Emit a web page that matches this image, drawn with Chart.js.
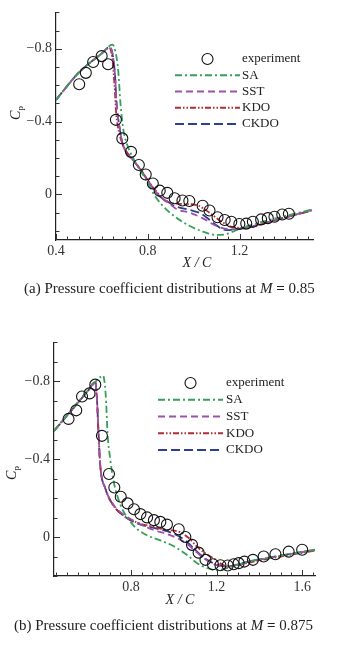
<!DOCTYPE html>
<html>
<head>
<meta charset="utf-8">
<script src="https://cdn.jsdelivr.net/npm/chart.js@4.4.0/dist/chart.umd.min.js"></script>
<style>
  body { margin: 0; background: #fff; width: 359px; height: 662px; position: relative; overflow: hidden;
         font-family: 'Liberation Serif', 'DejaVu Serif', serif; color: #222; }
  canvas { position: absolute; left: 0; }
  .lbl { position: absolute; white-space: nowrap; line-height: 1; }
  .axis-x { font-size: 14px; font-style: italic; transform: translateX(-50%); }
  .axis-y { font-size: 14px; transform: translate(-50%, -50%) rotate(-90deg); }
  .axis-y sub { font-size: 9px; font-style: normal; }
  .cap { font-size: 15px; }
  .cap b { font-weight: bold; }
</style>
</head>
<body>
<canvas id="chartA" width="359" height="262" style="top:0"></canvas>
<canvas id="chartB" width="359" height="270" style="top:330px"></canvas>

<div class="lbl axis-y" style="left:17px; top:113px"><i>C</i><sub>p</sub></div>
<div class="lbl axis-x" style="left:197px; top:256px">X / C</div>
<div class="lbl cap" style="left:24px; top:281px">(a) Pressure coefficient distributions at <i>M</i> <b>=</b> 0.85</div>

<div class="lbl axis-y" style="left:13px; top:473px"><i>C</i><sub>p</sub></div>
<div class="lbl axis-x" style="left:180px; top:593px">X / C</div>
<div class="lbl cap" style="left:14px; top:618px">(b) Pressure coefficient distributions at <i>M</i> <b>=</b> 0.875</div>

<script>
// ---------- (a) M = 0.85 ----------
const expXA = [0.501, 0.530, 0.562, 0.599, 0.627, 0.661, 0.689, 0.727, 0.761, 0.791, 0.822, 0.852, 0.885, 0.917, 0.951, 0.981,
               1.039, 1.069, 1.104, 1.135, 1.164, 1.199, 1.229, 1.258, 1.294, 1.323, 1.352, 1.386, 1.415];
const expCpA = [-0.605, -0.668, -0.728, -0.76, -0.715, -0.41, -0.308, -0.234, -0.162, -0.11, -0.06, -0.021, -0.009, 0.021, 0.033, 0.036,
                0.062, 0.088, 0.125, 0.14, 0.15, 0.162, 0.16, 0.15, 0.137, 0.13, 0.122, 0.11, 0.106];

const saXA  = [0.4, 0.5, 0.6, 0.646, 0.658, 0.671, 0.681, 0.693, 0.707, 0.74, 0.79, 0.83, 0.867, 0.925, 0.983, 1.04, 1.099, 1.142, 1.186, 1.23, 1.3, 1.4, 1.515];
const saCpA = [-0.52, -0.67, -0.775, -0.823, -0.79, -0.683, -0.5, -0.36, -0.286, -0.19, -0.085, 0.005, 0.065, 0.128, 0.173, 0.204, 0.222, 0.218, 0.196, 0.175, 0.15, 0.118, 0.083];

const sstXA  = [0.4, 0.5, 0.6, 0.635, 0.648, 0.657, 0.664, 0.678, 0.693, 0.735, 0.765, 0.794, 0.823, 0.852, 0.881, 0.925, 0.983, 1.04, 1.099, 1.157, 1.2, 1.243, 1.3, 1.388, 1.515];
const sstCpA = [-0.52, -0.67, -0.775, -0.81, -0.76, -0.66, -0.5, -0.36, -0.268, -0.19, -0.142, -0.088, -0.034, 0.01, 0.036, 0.08, 0.1, 0.131, 0.173, 0.19, 0.19, 0.178, 0.16, 0.13, 0.085];

const kdoXA  = [0.4, 0.5, 0.6, 0.632, 0.645, 0.655, 0.662, 0.675, 0.693, 0.735, 0.765, 0.794, 0.823, 0.852, 0.881, 0.953, 1.012, 1.07, 1.128, 1.186, 1.243, 1.3, 1.388, 1.515];
const kdoCpA = [-0.52, -0.67, -0.775, -0.805, -0.75, -0.6, -0.45, -0.34, -0.27, -0.19, -0.145, -0.09, -0.04, 0.005, 0.04, 0.052, 0.058, 0.101, 0.155, 0.182, 0.18, 0.162, 0.13, 0.088];

const ckdoXA  = [0.4, 0.5, 0.6, 0.635, 0.648, 0.657, 0.664, 0.678, 0.693, 0.735, 0.765, 0.794, 0.823, 0.852, 0.881, 0.91, 0.983, 1.026, 1.055, 1.084, 1.142, 1.186, 1.243, 1.3, 1.388, 1.515];
const ckdoCpA = [-0.52, -0.67, -0.775, -0.81, -0.76, -0.66, -0.5, -0.36, -0.268, -0.19, -0.142, -0.088, -0.034, 0.01, 0.034, 0.059, 0.085, 0.101, 0.125, 0.155, 0.196, 0.19, 0.18, 0.16, 0.13, 0.088];

const xTickLabelsA = [0.4, 0.8, 1.2];

// ---------- (b) M = 0.875 ----------
const expXB = [0.508, 0.544, 0.571, 0.606, 0.633, 0.664, 0.697, 0.722, 0.752, 0.784, 0.814, 0.844, 0.875, 0.907, 0.937, 0.968,
               1.023, 1.054, 1.085, 1.116, 1.148, 1.183, 1.218, 1.252, 1.28, 1.303, 1.33, 1.37, 1.42, 1.475, 1.537, 1.6];
const expCpB = [-0.607, -0.651, -0.722, -0.738, -0.783, -0.52, -0.324, -0.255, -0.207, -0.173, -0.143, -0.118, -0.101, -0.087, -0.078, -0.064,
                -0.04, 0.0, 0.04, 0.08, 0.117, 0.14, 0.145, 0.146, 0.14, 0.134, 0.126, 0.117, 0.1, 0.088, 0.075, 0.065];

const saXB  = [0.44, 0.5, 0.6, 0.66, 0.669, 0.678, 0.684, 0.69, 0.703, 0.719, 0.75, 0.812, 0.875, 0.937, 1.0, 1.062, 1.109, 1.156, 1.202, 1.249, 1.35, 1.45, 1.55, 1.66];
const saCpB = [-0.545, -0.625, -0.755, -0.825, -0.83, -0.78, -0.688, -0.537, -0.4, -0.285, -0.168, -0.059, -0.009, 0.017, 0.047, 0.092, 0.134, 0.159, 0.171, 0.159, 0.125, 0.105, 0.085, 0.065];

const sstXB  = [0.44, 0.5, 0.6, 0.633, 0.641, 0.648, 0.656, 0.68, 0.719, 0.766, 0.828, 0.906, 0.968, 1.015, 1.062, 1.109, 1.156, 1.202, 1.249, 1.35, 1.45, 1.55, 1.66];
const sstCpB = [-0.545, -0.623, -0.753, -0.797, -0.704, -0.537, -0.37, -0.25, -0.165, -0.115, -0.075, -0.036, -0.016, 0.005, 0.035, 0.08, 0.12, 0.145, 0.152, 0.127, 0.106, 0.086, 0.068];

const kdoXB  = [0.44, 0.5, 0.6, 0.633, 0.641, 0.648, 0.656, 0.68, 0.719, 0.766, 0.828, 0.906, 0.968, 1.03, 1.07, 1.109, 1.15, 1.186, 1.249, 1.3, 1.4, 1.5, 1.66];
const kdoCpB = [-0.545, -0.623, -0.753, -0.797, -0.704, -0.537, -0.37, -0.25, -0.16, -0.11, -0.075, -0.052, -0.037, -0.025, 0.005, 0.05, 0.085, 0.109, 0.15, 0.143, 0.12, 0.1, 0.07];

const ckdoXB  = [0.44, 0.5, 0.6, 0.633, 0.641, 0.648, 0.656, 0.68, 0.719, 0.766, 0.828, 0.906, 0.968, 1.015, 1.062, 1.109, 1.156, 1.202, 1.249, 1.35, 1.45, 1.55, 1.66];
const ckdoCpB = [-0.545, -0.623, -0.753, -0.797, -0.704, -0.537, -0.37, -0.25, -0.16, -0.109, -0.07, -0.047, -0.03, -0.009, 0.025, 0.075, 0.117, 0.142, 0.151, 0.125, 0.105, 0.085, 0.067];

const xTickLabelsB = [0.8, 1.2, 1.6];
const yTickLabels = [-0.8, -0.4, 0];

const pts = (xs, ys) => xs.map((x, i) => ({ x: x, y: ys[i] }));

function expSet(xs, ys) {
    return { label: 'experiment', data: pts(xs, ys), showLine: false,
             pointRadius: 5.5, pointBorderWidth: 1.1, pointBorderColor: '#111',
             pointBackgroundColor: 'rgba(0,0,0,0)' };
}
function lineSet(label, xs, ys, color, dash) {
    return { label: label, data: pts(xs, ys), showLine: true, borderColor: color,
             borderWidth: 1.8, borderDash: dash, pointRadius: 0,
             cubicInterpolationMode: 'monotone' };
}

function fmt(v) {
    if (Math.abs(v) < 1e-9) return '0';
    return (v < 0 ? '\u2212' : '') + Math.abs(v).toFixed(1);
}
const near = (list, v) => list.some(t => Math.abs(t - v) < 1e-6);

// short tick marks drawn inside the plot, at the scale's own ticks
const inwardTicks = {
    id: 'inwardTicks',
    afterDraw(chart) {
        const { ctx, chartArea } = chart;
        const xs = chart.scales.x, ys = chart.scales.y;
        ctx.save();
        ctx.strokeStyle = '#333';
        ctx.lineWidth = 1;
        ctx.beginPath();
        xs.ticks.forEach(t => {
            const px = Math.round(xs.getPixelForValue(t.value)) + 0.5;
            const len = t.label ? 6 : 3.5;
            ctx.moveTo(px, chartArea.bottom);
            ctx.lineTo(px, chartArea.bottom - len);
        });
        ys.ticks.forEach(t => {
            const py = Math.round(ys.getPixelForValue(t.value)) + 0.5;
            const len = t.label ? 6 : 3.5;
            ctx.moveTo(chartArea.left, py);
            ctx.lineTo(chartArea.left + len, py);
        });
        ctx.stroke();
        ctx.restore();
    }
};

// legend with long line samples, placed inside the plot
const insideLegend = {
    id: 'insideLegend',
    afterDraw(chart, args, opts) {
        const ctx = chart.ctx;
        ctx.save();
        ctx.font = '13px "Liberation Serif"';
        ctx.textBaseline = 'middle';
        chart.data.datasets.forEach((ds, i) => {
            const y = opts.top + i * opts.rowGap;
            if (ds.showLine === false) {
                ctx.beginPath();
                ctx.arc((opts.x0 + opts.x1) / 2, y, ds.pointRadius, 0, Math.PI * 2);
                ctx.lineWidth = ds.pointBorderWidth;
                ctx.strokeStyle = ds.pointBorderColor;
                ctx.stroke();
            } else {
                ctx.beginPath();
                ctx.setLineDash(ds.borderDash || []);
                ctx.moveTo(opts.x0, y);
                ctx.lineTo(opts.x1, y);
                ctx.strokeStyle = ds.borderColor;
                ctx.lineWidth = ds.borderWidth;
                ctx.stroke();
                ctx.setLineDash([]);
            }
            ctx.fillStyle = '#222';
            ctx.fillText(ds.label, opts.textX, y);
        });
        ctx.restore();
    }
};

const SA_COLOR = '#35a05a', SST_COLOR = '#9c52a8', KDO_COLOR = '#b52a34', CKDO_COLOR = '#2c3f92';
const SA_DASH = [7, 3, 2, 3], SST_DASH = [7, 4], KDO_DASH = [6, 2, 1.5, 2, 1.5, 2], CKDO_DASH = [9, 4];

function makeChart(id, sets, cfg) {
    const tickFont = { family: 'Liberation Serif', size: 14 };
    return new Chart(document.getElementById(id), {
        type: 'scatter',
        data: { datasets: sets },
        options: {
            responsive: false,
            animation: false,
            layout: { padding: { top: cfg.padTop, right: cfg.padRight, left: 0, bottom: 0 } },
            plugins: {
                legend: { display: false },
                tooltip: { enabled: false },
                insideLegend: cfg.legend
            },
            scales: {
                x: {
                    type: 'linear', min: cfg.xMin, max: cfg.xMax,
                    grid: { display: false, drawTicks: false },
                    border: { display: true, color: '#222', width: 1.2 },
                    ticks: {
                        stepSize: 0.05, autoSkip: false, maxRotation: 0, includeBounds: false,
                        padding: 3, color: '#333', font: tickFont,
                        callback: v => near(cfg.xLabels, v) ? v.toFixed(1) : ''
                    },
                    afterFit: s => { s.height = cfg.xAxisH; }
                },
                y: {
                    type: 'linear', reverse: true, min: -1.0, max: cfg.yMax,
                    grid: { display: false, drawTicks: false },
                    border: { display: true, color: '#222', width: 1.2 },
                    ticks: {
                        stepSize: 0.1, autoSkip: false, includeBounds: false,
                        padding: 4, color: '#333', font: tickFont,
                        callback: v => near(yTickLabels, v) ? fmt(v) : ''
                    },
                    afterFit: s => { s.width = cfg.yAxisW; }
                }
            }
        },
        plugins: [inwardTicks, insideLegend]
    });
}

makeChart('chartA', [
    expSet(expXA, expCpA),
    lineSet('SA', saXA, saCpA, SA_COLOR, SA_DASH),
    lineSet('SST', sstXA, sstCpA, SST_COLOR, SST_DASH),
    lineSet('KDO', kdoXA, kdoCpA, KDO_COLOR, KDO_DASH),
    lineSet('CKDO', ckdoXA, ckdoCpA, CKDO_COLOR, CKDO_DASH)
], {
    padTop: 7, padRight: 46, xAxisH: 22, yAxisW: 56,
    xMin: 0.4, xMax: 1.52, yMax: 0.25, xLabels: xTickLabelsA,
    legend: { x0: 175, x1: 240, textX: 242, top: 59, rowGap: 16.25 }
});

makeChart('chartB', [
    expSet(expXB, expCpB),
    lineSet('SA', saXB, saCpB, SA_COLOR, SA_DASH),
    lineSet('SST', sstXB, sstCpB, SST_COLOR, SST_DASH),
    lineSet('KDO', kdoXB, kdoCpB, KDO_COLOR, KDO_DASH),
    lineSet('CKDO', ckdoXB, ckdoCpB, CKDO_COLOR, CKDO_DASH)
], {
    padTop: 9, padRight: 44, xAxisH: 24, yAxisW: 54,
    xMin: 0.44, xMax: 1.66, yMax: 0.2, xLabels: xTickLabelsB,
    legend: { x0: 158, x1: 223, textX: 226, top: 53, rowGap: 16.75 }
});
</script>
</body>
</html>
